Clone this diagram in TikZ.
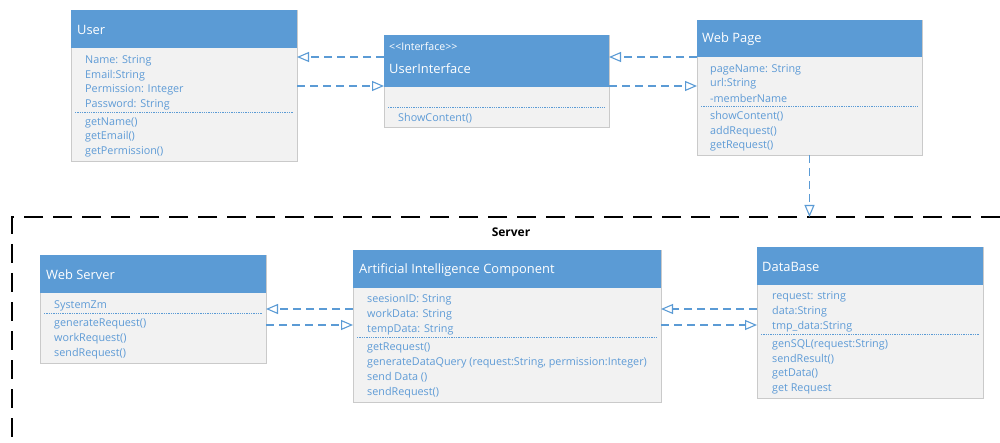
\documentclass[tikz,border=0pt]{standalone}
\usepackage{fontspec}
\setmainfont{Open Sans}
\usetikzlibrary{arrows.meta,calc}

\definecolor{umlblue}{HTML}{5B9BD5}
\definecolor{umltext}{HTML}{5E9BD6}
\definecolor{umlbody}{HTML}{F2F2F2}
\definecolor{umlborder}{HTML}{CACACA}

\tikzset{
  classbody/.style={draw=umlborder, fill=umlbody, line width=0.9pt, anchor=north west, inner sep=0pt, outer sep=0pt},
  classhead/.style={fill=umlblue, draw=none, anchor=north west, inner sep=0pt, outer sep=0pt},
  classtitle/.style={anchor=west, inner sep=0pt, yshift=-1pt, text=white, font=\fontsize{12.9}{15}\selectfont},
  stereo/.style={anchor=west, inner sep=0pt, text=white, font=\fontsize{10.6}{12}\selectfont},
  member/.style={anchor=west, inner sep=0pt, yshift=-1.5pt, text=umltext, font=\fontsize{10.8}{13}\selectfont},
  sepline/.style={draw=umlblue, line width=0.7pt, dash pattern=on 1.3pt off 1pt},
  dep/.style={draw=umlblue, line width=1.1pt, dash pattern=on 8pt off 5pt,
    -{Triangle[open,length=12pt,width=10pt]}},
  serverframe/.style={draw=black, line width=2.3pt, dash pattern=on 19pt off 10pt},
}

\begin{document}
\begin{tikzpicture}[x=1pt, y=-1pt]
\useasboundingbox (0,0) rectangle (1000,443);

% ---------- User ----------
\node[classbody, minimum width=226pt, minimum height=151pt] (user) at (71,10) {};
\node[classhead, minimum width=226pt, minimum height=38pt] (user-head) at (71,10) {};
\node[classtitle] (user-title) at (77,29) {User};
\foreach \t [count=\i] in {Name: String, Email:String, Permission: Integer, Password: String}
  \node[member] (user-a\i) at (85,{59+(\i-1)*14.7}) {\t};
\draw[sepline] (75,112) -- (293,112);
\foreach \t [count=\i] in {getName(), getEmail(), getPermission()}
  \node[member] (user-m\i) at (85,{121+(\i-1)*14.5}) {\t};

% ---------- UserInterface ----------
\node[classbody, minimum width=225pt, minimum height=92pt] (ui) at (384,35) {};
\node[classhead, minimum width=225pt, minimum height=52pt] (ui-head) at (384,35) {};
\node[stereo] (ui-stereo) at (389,47) {<{}<Interface>{}>};
\node[classtitle] (ui-title) at (389,68) {UserInterface};
\draw[sepline] (388,107) -- (605,107);
\node[member] (ui-m1) at (398,117) {ShowContent()};

% ---------- Web Page ----------
\node[classbody, minimum width=225pt, minimum height=135pt] (webpage) at (697,20) {};
\node[classhead, minimum width=225pt, minimum height=37pt] (webpage-head) at (697,20) {};
\node[classtitle] (webpage-title) at (702,38) {Web Page};
\foreach \t [count=\i] in {pageName: String, url:String, -memberName}
  \node[member] (webpage-a\i) at (710,{68+(\i-1)*14.6}) {\t};
\draw[sepline] (701,106) -- (918,106);
\foreach \t [count=\i] in {showContent(), addRequest(), getRequest()}
  \node[member] (webpage-m\i) at (710,{115+(\i-1)*14.8}) {\t};

% ---------- Server package frame ----------
\coordinate (srv-corner) at (12,217);
\draw[serverframe] (1000,217) -- (srv-corner) -- (12,443);
\node[inner sep=0pt, font=\bfseries\fontsize{12}{14}\selectfont] (server-label) at (511,232) {Server};

% ---------- Web Server ----------
\node[classbody, minimum width=226pt, minimum height=108pt] (websrv) at (40,255) {};
\node[classhead, minimum width=226pt, minimum height=38pt] (websrv-head) at (40,255) {};
\node[classtitle] (websrv-title) at (46,274) {Web Server};
\node[member] (websrv-a1) at (54,304) {SystemZm};
\draw[sepline] (44,313) -- (262,313);
\foreach \t [count=\i] in {generateRequest(), workRequest(), sendRequest()}
  \node[member] (websrv-m\i) at (54,{322+(\i-1)*15}) {\t};

% ---------- Artificial Intelligence Component ----------
\node[classbody, minimum width=308pt, minimum height=152pt] (ai) at (353,250) {};
\node[classhead, minimum width=308pt, minimum height=38pt] (ai-head) at (353,250) {};
\node[classtitle] (ai-title) at (359,269) {Artificial Intelligence Component};
\foreach \t [count=\i] in {seesionID: String, workData: String, tempData: String}
  \node[member] (ai-a\i) at (367,{298+(\i-1)*15}) {\t};
\draw[sepline] (357,337) -- (657,337);
\foreach \t [count=\i] in {getRequest(), {generateDataQuery (request:String, permission:Integer)}, send Data (), sendRequest()}
  \node[member] (ai-m\i) at (367,{346+(\i-1)*15}) {\t};

% ---------- DataBase ----------
\node[classbody, minimum width=226pt, minimum height=151pt] (db) at (757,247) {};
\node[classhead, minimum width=226pt, minimum height=38pt] (db-head) at (757,247) {};
\node[classtitle] (db-title) at (762,266) {DataBase};
\foreach \t [count=\i] in {request: string, data:String, tmp\_data:String}
  \node[member] (db-a\i) at (772,{295+(\i-1)*15}) {\t};
\draw[sepline] (761,334) -- (979,334);
\foreach \t [count=\i] in {genSQL(request:String), sendResult(), getData(), get Request}
  \node[member] (db-m\i) at (772,{343+(\i-1)*14.7}) {\t};

% ---------- dependency rows ----------
\coordinate (row-top-a) at (0,57);
\coordinate (row-top-b) at (0,86);
\coordinate (row-bot-a) at (0,309);
\coordinate (row-bot-b) at (0,325);

% ---------- dependencies ----------
\draw[dep] (ui.west |- row-top-a) -- (user.east |- row-top-a);
\draw[dep] (user.east |- row-top-b) -- (ui.west |- row-top-b);
\draw[dep] (webpage.west |- row-top-a) -- (ui.east |- row-top-a);
\draw[dep] (ui.east |- row-top-b) -- (webpage.west |- row-top-b);
\draw[dep] (webpage.south) -- (webpage.south |- srv-corner);

\draw[dep] (ai.west |- row-bot-a) -- (websrv.east |- row-bot-a);
\draw[dep] (websrv.east |- row-bot-b) -- (ai.west |- row-bot-b);
\draw[dep] (db.west |- row-bot-a) -- (ai.east |- row-bot-a);
\draw[dep] (ai.east |- row-bot-b) -- (db.west |- row-bot-b);
\end{tikzpicture}
\end{document}
